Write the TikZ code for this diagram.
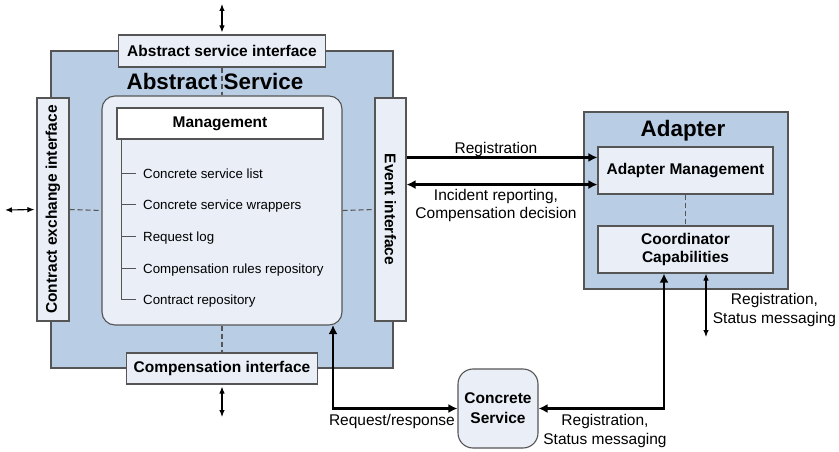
\documentclass[tikz,border=0pt]{standalone}
\usepackage{fontspec}
\setmainfont{Liberation Sans}
\usetikzlibrary{arrows.meta,calc}
\definecolor{svcblue}{RGB}{185,205,228}
\definecolor{pale}{RGB}{233,238,247}
\definecolor{edgegray}{RGB}{85,85,85}
\begin{document}
\begin{tikzpicture}[x=1pt,y=-1pt,
  bigbox/.style={draw=edgegray,line width=1.1pt,fill=svcblue,inner sep=0pt},
  ibox/.style={draw=edgegray,line width=1.1pt,fill=pale,inner sep=0pt,font=\fontsize{15.5}{18}\selectfont\bfseries,align=center},
  titletxt/.style={font=\fontsize{22.4}{26}\selectfont\bfseries,inner sep=0pt},
  itemtxt/.style={font=\fontsize{13.3}{16}\selectfont,inner sep=0pt,anchor=base west},
  lbl/.style={font=\fontsize{15.5}{18.3}\selectfont,inner sep=0pt,align=center},
  dashln/.style={draw=edgegray,line width=1.1pt,dash pattern=on 5pt off 3pt},
  thinarr/.style={line width=1.1pt,{Latex[length=7pt,width=5.5pt]}-{Latex[length=7pt,width=5.5pt]}},
  thickarr/.style={line width=2.8pt,{Latex[length=9pt,width=9pt]}-{Latex[length=9pt,width=9pt]}},
  thickone/.style={line width=2.8pt,-{Latex[length=9pt,width=9pt]}},
  treeln/.style={draw=edgegray,line width=1pt}
]
\path[use as bounding box] (0,0) rectangle (839,452);

% Abstract service
\node[bigbox,minimum width=342pt,minimum height=317pt] (as) at (222,209.5) {};
\node[ibox,minimum width=207pt,minimum height=32pt] (asi) at (222,51) {Abstract service interface};
\node[ibox,minimum width=240pt,minimum height=229pt,rounded corners=13pt] (inner) at (222,210.5) {};
\node[ibox,fill=white,minimum width=206pt,minimum height=31pt] (mgmt) at (220,123.5) {Management};
\node[ibox,minimum width=32pt,minimum height=223pt] (ce) at (53,209.5) {};
\node[font=\fontsize{15.5}{18}\selectfont\bfseries,rotate=90,inner sep=0pt] (cetxt) at (ce) {Contract exchange interface};
\node[ibox,minimum width=31pt,minimum height=223pt] (ev) at (390.5,209.5) {};
\node[font=\fontsize{15.5}{18}\selectfont\bfseries,rotate=-90,inner sep=0pt] (evtxt) at (ev) {Event interface};
\node[ibox,minimum width=191pt,minimum height=31pt] (comp) at (222,368.5) {Compensation interface};

% dashed links
\draw[dashln] (asi.south) -- (inner.north);
\draw[dashln] (inner.south) -- (comp.north);
\draw[dashln] (ce.east) -- (inner.west);
\draw[dashln] (inner.east) -- (ev.west);

\node[titletxt,anchor=base] (astitle) at (215,89.5) {Abstract Service};

% tree
\coordinate (tt) at (121,139);
\coordinate (tb) at (121,299);
\draw[treeln] (tt) -- (tb) -- ++(15,0);
\foreach \yy/\nm/\tx in {173/i1/Concrete service list,204/i2/Concrete service wrappers,236/i3/Request log,268/i4/Compensation rules repository,299/i5/Contract repository}{
  \node[itemtxt] (\nm) at (143,\yy+5) {\tx};
  \draw[treeln] (121,\yy) -- (136,\yy);
}

% Adapter
\node[bigbox,minimum width=204pt,minimum height=177pt] (ad) at (686,200.5) {};
\node[titletxt,anchor=base] (adtitle) at (683,136.7) {Adapter};
\node[ibox,minimum width=175pt,minimum height=47pt] (am) at (685.5,170.5) {Adapter Management};
\node[ibox,minimum width=175pt,minimum height=47pt] (cc) at (685.5,249.5) {Coordinator\\Capabilities};
\draw[dashln] (am.south) -- (cc.north);

% Concrete service
\node[ibox,minimum width=80pt,minimum height=79pt,rounded corners=15pt,font=\fontsize{15.5}{20}\selectfont\bfseries] (cs) at (498,408.5) {Concrete\\Service};

% outer arrows
\coordinate (topend) at (222,4);
\coordinate (botend) at (222,417);
\coordinate (leftend) at (5,210);
\draw[thinarr,shorten <=2pt] (asi.north) -- (topend);
\draw[thinarr,shorten <=2pt] (comp.south) -- (botend);
\draw[thinarr,shorten <=2pt] (ce.west) -- (leftend);

% event arrows
\coordinate (r1) at ([yshift=-11pt]am.north west);
\coordinate (r2) at ([yshift=10pt]am.south west);
\draw[thickone] (ev.east |- r1) -- (r1);
\draw[thickarr] (ev.east |- r2) -- (r2);
\node[lbl,anchor=base] (lreg) at (496,153.3) {Registration};
\node[lbl] (linc) at (496,205.7) {Incident reporting,\\Compensation decision};

% request/response
\coordinate (rr) at (333,325);
\draw[thickarr] (rr) |- (cs.west);
\node[lbl,anchor=base east] (lreq) at (455,425) {Request/response};

% coordinator to concrete
\draw[thickarr] (cs.east) -| ([xshift=-21.5pt]cc.south);
\node[lbl] (lreg2) at (605,431) {Registration,\\Status messaging};

% coordinator outer
\coordinate (rsend) at (706,337);
\draw[thinarr] ([xshift=20.5pt]cc.south) -- (rsend);
\node[lbl] (lreg3) at (774.5,310) {Registration,\\Status messaging};
\end{tikzpicture}
\end{document}
